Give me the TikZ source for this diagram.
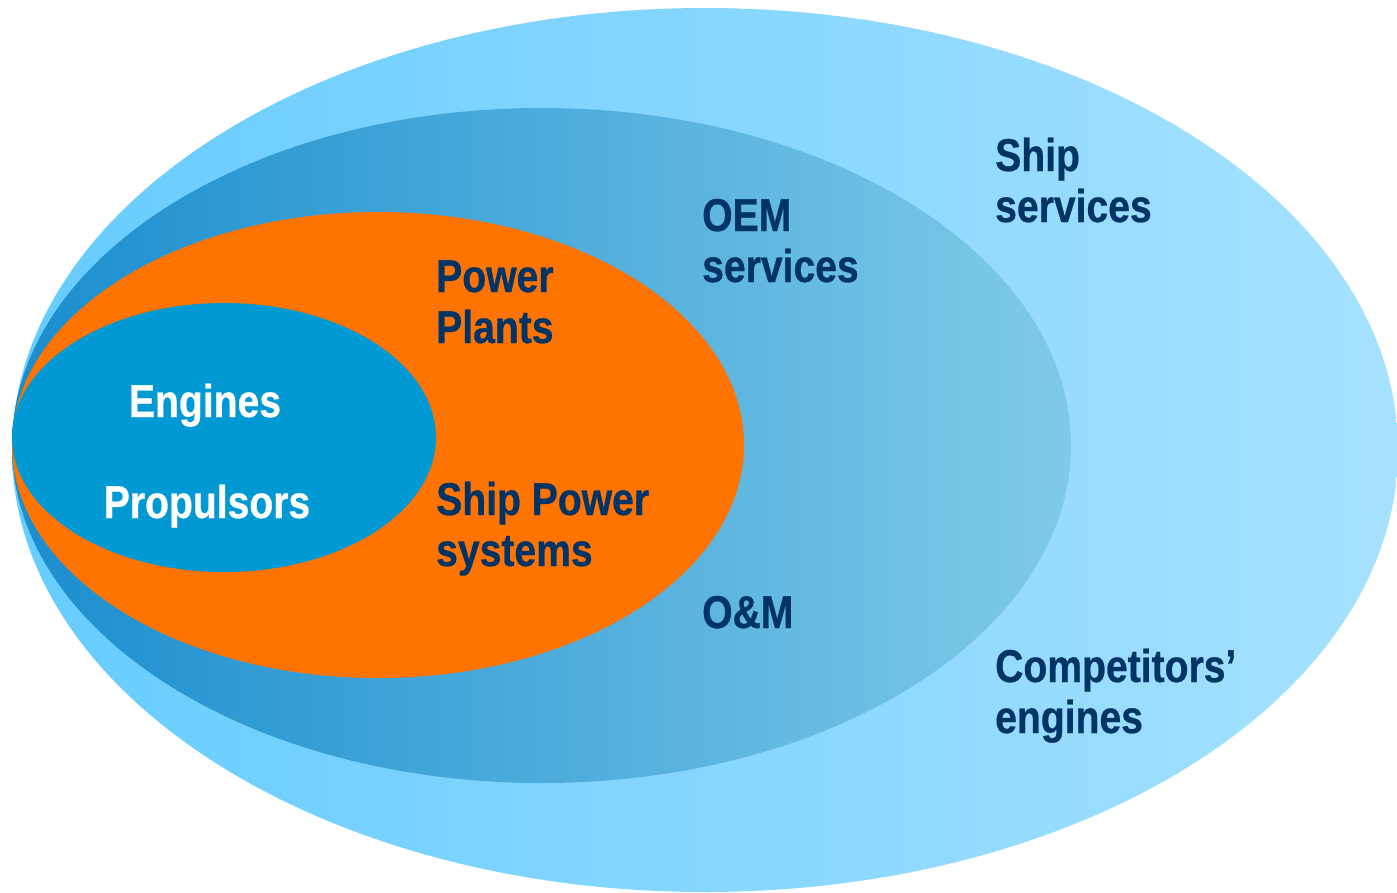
\documentclass[tikz,border=0pt]{standalone}
\usepackage{fontspec}
\setmainfont{Liberation Sans}[FakeStretch=0.85, BoldFeatures={FakeBold=0.6}]
\definecolor{outerL}{HTML}{66CCFF}
\definecolor{outerR}{HTML}{A6E1FF}
\definecolor{midL}{HTML}{1A8DCE}
\definecolor{midR}{HTML}{7FCAE8}
\definecolor{orangefill}{HTML}{FF7300}
\definecolor{innerfill}{HTML}{0099D4}
\definecolor{navy}{HTML}{003366}
\tikzset{
  lbl/.style={anchor=base west, inner sep=0pt, align=left, text=navy,
    font=\fontsize{46}{51}\selectfont\bfseries},
  wlbl/.style={anchor=base, inner sep=0pt, text=white,
    font=\fontsize{46}{51}\selectfont\bfseries}
}
\begin{document}
\begin{tikzpicture}[x=1pt,y=-1pt]
\useasboundingbox (0,0) rectangle (1397,892);
\shade[left color=outerL, right color=outerR] (705,450) ellipse [x radius=693, y radius=442];
\shade[left color=midL, right color=midR] (541.5,445.5) ellipse [x radius=529.5, y radius=337.5];
\fill[orangefill] (378,445) ellipse [x radius=366, y radius=233];
\fill[innerfill] (224,437.5) ellipse [x radius=212, y radius=134.5];
\node[lbl] (ship) at (995,222) {Ship\\services};
\node[lbl] (oem) at (702,282) {OEM\\services};
\node[lbl] (power) at (436,343) {Power\\Plants};
\node[lbl] (sps) at (436,566) {Ship Power\\systems};
\node[lbl] (om) at (702,628) {O\&M};
\node[lbl] (comp) at (995,733) {Competitors’\\engines};
\node[wlbl] (eng) at (205,417) {Engines};
\node[wlbl] (prop) at (207,518) {Propulsors};
\end{tikzpicture}
\end{document}
